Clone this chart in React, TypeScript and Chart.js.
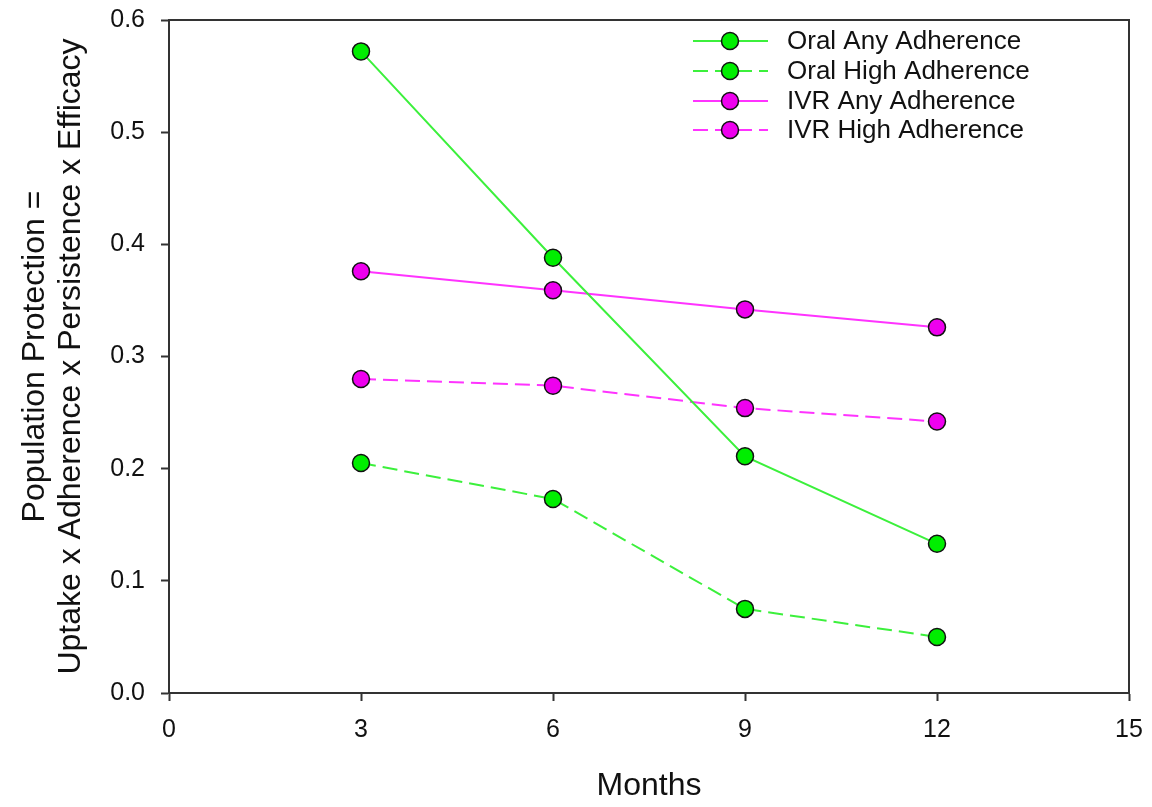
import React, { useEffect, useRef } from "react";
import { Chart, registerables } from "chart.js";

Chart.register(...registerables);

const months = [3, 6, 9, 12];
const oralAny = [0.572, 0.388, 0.211, 0.133];
const oralHigh = [0.205, 0.173, 0.075, 0.05];
const ivrAny = [0.376, 0.359, 0.342, 0.326];
const ivrHigh = [0.28, 0.274, 0.254, 0.242];
const seriesNames = [
  "Oral Any Adherence",
  "Oral High Adherence",
  "IVR Any Adherence",
  "IVR High Adherence",
];
const xTicks = [0, 3, 6, 9, 12, 15];
const yTicks = [0, 0.1, 0.2, 0.3, 0.4, 0.5, 0.6];

const FONT = "'Liberation Sans', Arial, sans-serif";
const GREEN_LINE = "#3cf03c";
const GREEN_FILL = "#00ee00";
const MAG_LINE = "#ff33ff";
const MAG_FILL = "#ee00ee";
const DASH = [15, 7];

const framePlugin = {
  id: "frame",
  afterDraw(chart: any) {
    const { ctx, chartArea } = chart;
    ctx.save();
    ctx.strokeStyle = "#333";
    ctx.lineWidth = 2;
    ctx.beginPath();
    ctx.moveTo(chartArea.left, chartArea.top);
    ctx.lineTo(chartArea.right, chartArea.top);
    ctx.lineTo(chartArea.right, chartArea.bottom);
    ctx.stroke();
    ctx.restore();
  },
};

const legendPlugin = {
  id: "customLegend",
  afterDraw(chart: any) {
    const { ctx } = chart;
    const x0 = 693;
    const x1 = 768;
    const mx = 730;
    const textX = 787;
    const rows = [41, 71, 101, 130];
    ctx.save();
    chart.data.datasets.forEach((ds: any, i: number) => {
      const y = rows[i];
      ctx.strokeStyle = ds.borderColor;
      ctx.lineWidth = ds.borderWidth;
      ctx.setLineDash(ds.borderDash || []);
      ctx.beginPath();
      ctx.moveTo(x0, y);
      ctx.lineTo(x1, y);
      ctx.stroke();
      ctx.setLineDash([]);
      ctx.beginPath();
      ctx.arc(mx, y, ds.pointRadius, 0, Math.PI * 2);
      ctx.fillStyle = ds.pointBackgroundColor;
      ctx.fill();
      ctx.lineWidth = ds.pointBorderWidth;
      ctx.strokeStyle = ds.pointBorderColor;
      ctx.stroke();
      ctx.fillStyle = "#111";
      ctx.font = `26px ${FONT}`;
      ctx.textAlign = "left";
      ctx.textBaseline = "middle";
      ctx.fillText(ds.label, textX, y + 1);
    });
    ctx.restore();
  },
};

function makeDataset(label: string, values: number[], line: string, fill: string, dashed: boolean) {
  return {
    label,
    data: months.map((m, i) => ({ x: m, y: values[i] })),
    borderColor: line,
    backgroundColor: fill,
    borderWidth: 2,
    borderDash: dashed ? DASH : [],
    pointRadius: 8.5,
    pointBackgroundColor: fill,
    pointBorderColor: "#111",
    pointBorderWidth: 1.5,
    tension: 0,
    fill: false,
  };
}

export default function App() {
  const ref = useRef<HTMLCanvasElement | null>(null);
  useEffect(() => {
    if (!ref.current) return;
    const chart = new Chart(ref.current, {
      type: "line",
      data: {
        datasets: [
          makeDataset(seriesNames[0], oralAny, GREEN_LINE, GREEN_FILL, false),
          makeDataset(seriesNames[1], oralHigh, GREEN_LINE, GREEN_FILL, true),
          makeDataset(seriesNames[2], ivrAny, MAG_LINE, MAG_FILL, false),
          makeDataset(seriesNames[3], ivrHigh, MAG_LINE, MAG_FILL, true),
        ] as any,
      },
      options: {
        animation: false,
        responsive: false,
        maintainAspectRatio: false,
        devicePixelRatio: 1,
        layout: { padding: { top: 20, right: 23, left: 0, bottom: 0 } },
        plugins: {
          legend: { display: false },
          tooltip: { enabled: false },
        },
        scales: {
          x: {
            type: "linear",
            min: 0,
            max: 15,
            afterFit(scale: any) {
              scale.height = 114;
              scale.paddingLeft = 0;
              scale.paddingRight = 0;
            },
            afterBuildTicks(scale: any) {
              scale.ticks = xTicks.map((v) => ({ value: v }));
            },
            border: { display: true, color: "#333", width: 2 },
            grid: {
              drawOnChartArea: false,
              drawTicks: true,
              tickLength: 8,
              tickColor: "#333",
              tickWidth: 2,
            },
            ticks: {
              padding: 14,
              color: "#111",
              font: { family: FONT, size: 25 },
              maxRotation: 0,
              callback: (v: any) => String(v),
            },
            title: {
              display: true,
              text: "Months",
              color: "#111",
              font: { family: FONT, size: 32, lineHeight: 1.1 },
              padding: { top: 0, bottom: 3 },
            },
          },
          y: {
            type: "linear",
            min: 0,
            max: 0.6,
            afterFit(scale: any) {
              scale.width = 169;
              scale.paddingTop = 0;
              scale.paddingBottom = 0;
            },
            afterBuildTicks(scale: any) {
              scale.ticks = yTicks.map((v) => ({ value: v }));
            },
            border: { display: true, color: "#333", width: 2 },
            grid: {
              drawOnChartArea: false,
              drawTicks: true,
              tickLength: 8,
              tickColor: "#333",
              tickWidth: 2,
            },
            ticks: {
              padding: 16,
              color: "#111",
              font: { family: FONT, size: 25 },
              callback: (v: any) => Number(v).toFixed(1),
            },
            title: {
              display: true,
              text: [
                "Population Protection =",
                "Uptake x Adherence x Persistence x Efficacy",
              ],
              color: "#111",
              font: { family: FONT, size: 32, lineHeight: 1.1 },
              padding: { top: 18, bottom: 0 },
            },
          },
        },
      } as any,
      plugins: [framePlugin, legendPlugin],
    });
    return () => chart.destroy();
  }, []);
  return (
    <div style={{ position: "fixed", left: 0, top: 0, width: 1152, height: 807, background: "#fff" }}>
      <canvas ref={ref} width={1152} height={807} style={{ width: 1152, height: 807, display: "block" }} />
    </div>
  );
}
